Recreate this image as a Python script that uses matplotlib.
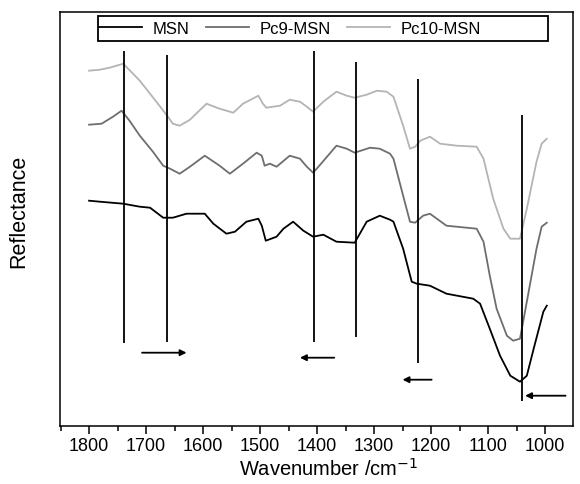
import matplotlib
matplotlib.use("Agg")
import matplotlib.pyplot as plt
from matplotlib.patches import Rectangle
from matplotlib.ticker import MultipleLocator

# valores (unidades arbitrárias de reflectância)
wn_msn = [1800, 1781, 1740, 1711, 1693, 1670, 1653, 1629, 1597, 1582, 1559, 1544,
          1524, 1503, 1497, 1490, 1471, 1459, 1442, 1424, 1407, 1389, 1366, 1334,
          1313, 1290, 1272, 1266, 1249, 1234, 1225, 1202, 1173, 1126, 1114,
          1097, 1079, 1061, 1044, 1032, 1020, 1003, 997]
refl_msn = [225, 224, 222, 219, 218, 208, 208, 212, 212, 202, 192, 194,
            204, 207, 200, 185, 189, 197, 204, 195, 189, 191, 184, 183,
            204, 210, 206, 204, 177, 144, 142, 140, 132, 127, 122,
            97, 70, 50, 44, 50, 77, 114, 120]

wn_pc9 = [1800, 1778, 1758, 1743, 1729, 1711, 1688, 1670, 1658, 1641, 1623, 1597,
          1571, 1553, 1530, 1506, 1497, 1492, 1483, 1471, 1448, 1430, 1418, 1407,
          1396, 1366, 1348, 1334, 1307, 1290, 1272, 1266, 1249, 1237, 1228, 1214,
          1202, 1173, 1120, 1108, 1097, 1085, 1067, 1056, 1044, 1032, 1015, 1006, 997]
refl_pc9 = [301, 302, 309, 315, 305, 290, 274, 260, 257, 252, 259, 270,
            260, 252, 262, 273, 270, 260, 262, 259, 270, 267, 259, 253,
            260, 280, 277, 273, 278, 277, 272, 267, 230, 204, 203, 210,
            212, 200, 197, 184, 150, 117, 90, 85, 87, 124, 177, 199, 203]

wn_pc10 = [1800, 1781, 1764, 1740, 1711, 1682, 1663, 1653, 1641, 1623, 1594, 1571,
           1547, 1530, 1503, 1495, 1489, 1477, 1465, 1448, 1430, 1418, 1407, 1389,
           1366, 1348, 1334, 1313, 1295, 1278, 1266, 1249, 1237, 1228, 1219, 1202,
           1184, 1155, 1120, 1108, 1091, 1073, 1061, 1044, 1032, 1015, 1006, 997]
refl_pc10 = [355, 356, 358, 362, 345, 324, 310, 302, 300, 306, 322, 317,
             313, 322, 330, 322, 318, 319, 320, 326, 324, 319, 314, 324,
             334, 330, 328, 331, 335, 334, 329, 300, 277, 279, 285, 289,
             282, 280, 279, 267, 227, 197, 187, 187, 217, 264, 282, 287]

# linhas verticais de referência
linhas_wn = [1739, 1663, 1405, 1332, 1223, 1041]
linhas_ini = [83, 84, 84, 89, 63, 25]
linhas_fim = [375, 371, 375, 364, 347, 311]

# setas de deslocamento (origem -> destino, altura)
setas_de = [1707, 1370, 1199, 964]
setas_para = [1629, 1430, 1250, 1035]
setas_y = [73, 68, 46, 30]

series_nomes = ["MSN", "Pc9-MSN", "Pc10-MSN"]
series_cores = ["#000000", "#6e6e6e", "#b4b4b4"]


def main() -> None:
    plt.rcParams["font.family"] = ["Liberation Sans", "DejaVu Sans"]

    fig = plt.figure(figsize=(5.8, 4.85), dpi=100)
    ax = fig.add_axes([60 / 580, 58.3 / 485, 513 / 580, 414 / 485])

    curvas = [(wn_msn, refl_msn), (wn_pc9, refl_pc9), (wn_pc10, refl_pc10)]
    for (wn, refl), nome, cor in zip(curvas, series_nomes, series_cores):
        ax.plot(wn, refl, color=cor, lw=1.3, label=nome)

    ax.vlines(linhas_wn, linhas_ini, linhas_fim, colors="k", lw=1.3)

    for x0, x1, y in zip(setas_de, setas_para, setas_y):
        ax.annotate("", xy=(x1, y), xytext=(x0, y),
                    arrowprops=dict(arrowstyle="-|>", color="k", lw=1.3,
                                    mutation_scale=9, shrinkA=0, shrinkB=0))

    ax.set_xlim(1851, 951)
    ax.set_ylim(0, 414)
    ax.set_yticks([])
    ax.xaxis.set_major_locator(MultipleLocator(100))
    ax.xaxis.set_minor_locator(MultipleLocator(50))
    ax.tick_params(axis="x", which="major", direction="out", length=6, width=1.1,
                   labelsize=13, pad=2)
    ax.tick_params(axis="x", which="minor", direction="out", length=3.6, width=1.1)
    for spine in ax.spines.values():
        spine.set_linewidth(1.1)

    ax.set_xlabel("Wavenumber /cm$^{-1}$", fontsize=14.5)
    ax.xaxis.set_label_coords(0.524, -0.076)
    ax.set_ylabel("Reflectance", fontsize=15.5)
    ax.yaxis.set_label_coords(-0.06, 0.52)

    # caixa da legenda mais larga que o conteúdo, como no original
    ax.add_patch(Rectangle((0.0735, 0.930), 0.8785, 0.060, transform=ax.transAxes,
                           fill=False, edgecolor="k", lw=1.3, zorder=5))
    ax.legend(loc="center left", bbox_to_anchor=(0.076, 0.960), ncol=3,
              frameon=False, fontsize=12, handlelength=2.6, handletextpad=0.6,
              columnspacing=1.0, borderaxespad=0, borderpad=0)

    fig.savefig("out.png", dpi=100)
    plt.close(fig)


if __name__ == "__main__":
    main()
